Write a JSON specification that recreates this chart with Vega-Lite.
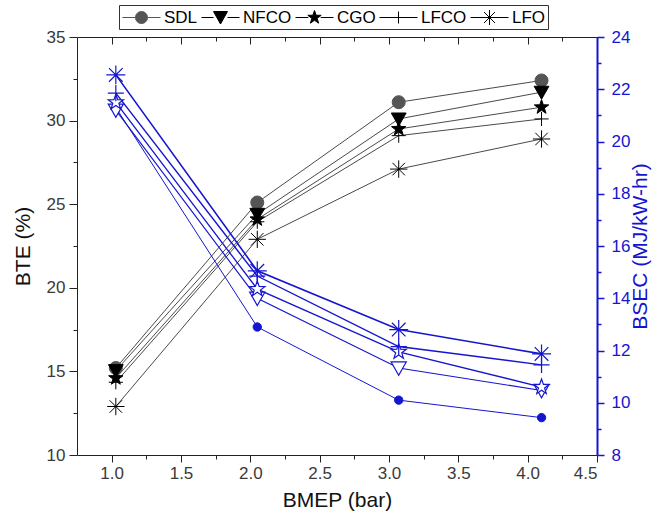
{
  "$schema": "https://vega.github.io/schema/vega-lite/v6.json",
  "width": 520,
  "height": 418,
  "autosize": {"type": "none"},
  "padding": {"left": 77, "top": 37, "right": 65, "bottom": 60},
  "background": "white",
  "config": {
    "view": {"stroke": null},
    "font": "Liberation Sans",
    "axis": {
      "grid": false,
      "labelFont": "Liberation Sans",
      "titleFont": "Liberation Sans",
      "labelFontSize": 17,
      "titleFontSize": 21,
      "titleFontWeight": "normal",
      "labelColor": "#3a3a3a",
      "titleColor": "#111111",
      "domainColor": "#222222",
      "tickColor": "#222222",
      "tickWidth": 1,
      "domainWidth": 1
    }
  },
  "data": {
    "values": [
      {"bmep": 1.03, "series": "SDL", "bte": 15.2, "bsec": 21.3},
      {"bmep": 2.05, "series": "SDL", "bte": 25.1, "bsec": 12.9},
      {"bmep": 3.07, "series": "SDL", "bte": 31.1, "bsec": 10.1},
      {"bmep": 4.1, "series": "SDL", "bte": 32.4, "bsec": 9.43},
      {"bmep": 1.03, "series": "NFCO", "bte": 15.05, "bsec": 21.2},
      {"bmep": 2.05, "series": "NFCO", "bte": 24.4, "bsec": 14.0},
      {"bmep": 3.07, "series": "NFCO", "bte": 30.1, "bsec": 11.33},
      {"bmep": 4.1, "series": "NFCO", "bte": 31.7, "bsec": 10.47},
      {"bmep": 1.03, "series": "CGO", "bte": 14.6, "bsec": 21.5},
      {"bmep": 2.05, "series": "CGO", "bte": 24.1, "bsec": 14.35},
      {"bmep": 3.07, "series": "CGO", "bte": 29.5, "bsec": 11.95},
      {"bmep": 4.1, "series": "CGO", "bte": 30.8, "bsec": 10.6},
      {"bmep": 1.03, "series": "LFCO", "bte": 14.35, "bsec": 21.85},
      {"bmep": 2.05, "series": "LFCO", "bte": 23.95, "bsec": 14.85},
      {"bmep": 3.07, "series": "LFCO", "bte": 29.1, "bsec": 12.15},
      {"bmep": 4.1, "series": "LFCO", "bte": 30.1, "bsec": 11.45},
      {"bmep": 1.03, "series": "LFO", "bte": 12.9, "bsec": 22.55},
      {"bmep": 2.05, "series": "LFO", "bte": 22.9, "bsec": 15.05},
      {"bmep": 3.07, "series": "LFO", "bte": 27.1, "bsec": 12.8},
      {"bmep": 4.1, "series": "LFO", "bte": 28.9, "bsec": 11.87}
    ]
  },
  "layer": [
    {
      "mark": {"type": "line", "color": "#4a4a4a", "strokeWidth": 1},
      "encoding": {
        "x": {"field": "bmep", "type": "quantitative",
          "scale": {"domain": [0.75, 4.5], "nice": false, "zero": false},
          "axis": {"orient": "bottom", "values": [1, 1.5, 2, 2.5, 3, 3.5, 4, 4.5], "format": ".1f", "tickSize": 7, "labelPadding": 3, "title": "BMEP (bar)", "titlePadding": 8}},
        "y": {"field": "bte", "type": "quantitative",
          "scale": {"domain": [10, 35], "nice": false, "zero": false},
          "axis": {"orient": "left", "values": [10, 15, 20, 25, 30, 35], "tickSize": 8, "labelPadding": 4, "title": "BTE (%)", "titlePadding": 13}},
        "detail": {"field": "series", "type": "nominal"}
      }
    },
    {
      "transform": [{"filter": "datum.series === 'SDL'"}],
      "mark": {"type": "point", "shape": "circle", "size": 170, "fill": "#555555", "stroke": "#555555", "strokeWidth": 1, "opacity": 1},
      "encoding": {
        "x": {"field": "bmep", "type": "quantitative",
          "axis": {"orient": "bottom", "values": [1.25, 1.75, 2.25, 2.75, 3.25, 3.75, 4.25], "labels": false, "domain": false, "tickSize": 4, "title": null}},
        "y": {"field": "bte", "type": "quantitative",
          "scale": {"domain": [10, 35], "nice": false, "zero": false},
          "axis": {"orient": "left", "values": [12.5, 17.5, 22.5, 27.5, 32.5], "labels": false, "domain": false, "tickSize": 4, "title": null}}
      }
    },
    {
      "transform": [{"filter": "datum.series === 'NFCO'"}],
      "mark": {"type": "point", "shape": "M-1,-0.8L1,-0.8L0,0.95Z", "size": 220, "fill": "#000000", "stroke": "#000000", "strokeWidth": 1, "opacity": 1},
      "encoding": {
        "x": {"field": "bmep", "type": "quantitative", "axis": null},
        "y": {"field": "bte", "type": "quantitative", "scale": {"domain": [10, 35], "nice": false, "zero": false}, "axis": null}
      }
    },
    {
      "transform": [{"filter": "datum.series === 'CGO'"}],
      "mark": {"type": "point", "shape": "M0,-1L0.235,-0.324L0.951,-0.309L0.38,0.124L0.588,0.809L0,0.4L-0.588,0.809L-0.38,0.124L-0.951,-0.309L-0.235,-0.324Z", "size": 230, "fill": "#000000", "stroke": "#000000", "strokeWidth": 1, "opacity": 1},
      "encoding": {
        "x": {"field": "bmep", "type": "quantitative", "axis": null},
        "y": {"field": "bte", "type": "quantitative", "scale": {"domain": [10, 35], "nice": false, "zero": false}, "axis": null}
      }
    },
    {
      "transform": [{"filter": "datum.series === 'LFCO'"}],
      "mark": {"type": "point", "shape": "M-1,0H1M0,-1V1", "size": 200, "fill": "#000000", "stroke": "#000000", "strokeWidth": 1, "opacity": 1},
      "encoding": {
        "x": {"field": "bmep", "type": "quantitative", "axis": null},
        "y": {"field": "bte", "type": "quantitative", "scale": {"domain": [10, 35], "nice": false, "zero": false}, "axis": null}
      }
    },
    {
      "transform": [{"filter": "datum.series === 'LFO'"}],
      "mark": {"type": "point", "shape": "M-1,0H1M0,-1V1M-0.72,-0.72L0.72,0.72M-0.72,0.72L0.72,-0.72", "size": 300, "fill": "#000000", "stroke": "#000000", "strokeWidth": 1, "opacity": 1},
      "encoding": {
        "x": {"field": "bmep", "type": "quantitative", "axis": null},
        "y": {"field": "bte", "type": "quantitative", "scale": {"domain": [10, 35], "nice": false, "zero": false}, "axis": null}
      }
    },
    {
      "mark": {"type": "line", "color": "#1515cf"},
      "encoding": {
        "x": {"field": "bmep", "type": "quantitative",
          "axis": {"orient": "top", "values": [1, 1.5, 2, 2.5, 3, 3.5, 4, 4.5], "labels": false, "tickSize": -7, "title": null}},
        "y": {"field": "bsec", "type": "quantitative",
          "scale": {"domain": [8, 24], "nice": false, "zero": false},
          "axis": {"orient": "right", "values": [8, 10, 12, 14, 16, 18, 20, 22, 24], "tickSize": 7, "labelPadding": 7,
            "title": "BSEC (MJ/kW-hr)", "titleAngle": 270, "titleBaseline": "top", "titlePadding": 0,
            "labelColor": "#1515cf", "titleColor": "#1515cf", "domainColor": "#1515cf", "tickColor": "#1515cf", "domainWidth": 2, "tickWidth": 1.5}},
        "detail": {"field": "series", "type": "nominal"},
        "strokeWidth": {"field": "series", "type": "nominal",
          "scale": {"domain": ["SDL", "NFCO", "CGO", "LFCO", "LFO"], "range": [1, 1.6, 1.6, 1.6, 1.6]},
          "legend": null}
      }
    },
    {
      "transform": [{"filter": "datum.series === 'SDL'"}],
      "mark": {"type": "point", "shape": "circle", "size": 70, "fill": "#1515cf", "stroke": "#1515cf", "strokeWidth": 1, "opacity": 1},
      "encoding": {
        "x": {"field": "bmep", "type": "quantitative",
          "axis": {"orient": "top", "values": [1.25, 1.75, 2.25, 2.75, 3.25, 3.75, 4.25], "labels": false, "domain": false, "tickSize": -4, "title": null}},
        "y": {"field": "bsec", "type": "quantitative",
          "scale": {"domain": [8, 24], "nice": false, "zero": false},
          "axis": {"orient": "right", "values": [9, 11, 13, 15, 17, 19, 21, 23], "labels": false, "domain": false, "tickSize": 4, "title": null, "tickColor": "#1515cf", "tickWidth": 1.5}}
      }
    },
    {
      "transform": [{"filter": "datum.series === 'NFCO'"}],
      "mark": {"type": "point", "shape": "M-1,-0.8L1,-0.8L0,0.95Z", "size": 230, "fill": "#ffffff", "stroke": "#1515cf", "strokeWidth": 1.2, "opacity": 1},
      "encoding": {
        "x": {"field": "bmep", "type": "quantitative", "axis": null},
        "y": {"field": "bsec", "type": "quantitative", "scale": {"domain": [8, 24], "nice": false, "zero": false}, "axis": null}
      }
    },
    {
      "transform": [{"filter": "datum.series === 'CGO'"}],
      "mark": {"type": "point", "shape": "M0,-1L0.235,-0.324L0.951,-0.309L0.38,0.124L0.588,0.809L0,0.4L-0.588,0.809L-0.38,0.124L-0.951,-0.309L-0.235,-0.324Z", "size": 260, "fill": "#ffffff", "stroke": "#1515cf", "strokeWidth": 1.2, "opacity": 1},
      "encoding": {
        "x": {"field": "bmep", "type": "quantitative", "axis": null},
        "y": {"field": "bsec", "type": "quantitative", "scale": {"domain": [8, 24], "nice": false, "zero": false}, "axis": null}
      }
    },
    {
      "transform": [{"filter": "datum.series === 'LFCO'"}],
      "mark": {"type": "point", "shape": "M-1,0H1M0,-1V1", "size": 260, "fill": "#1515cf", "stroke": "#1515cf", "strokeWidth": 1.2, "opacity": 1},
      "encoding": {
        "x": {"field": "bmep", "type": "quantitative", "axis": null},
        "y": {"field": "bsec", "type": "quantitative", "scale": {"domain": [8, 24], "nice": false, "zero": false}, "axis": null}
      }
    },
    {
      "transform": [{"filter": "datum.series === 'LFO'"}],
      "mark": {"type": "point", "shape": "M-1,0H1M0,-1V1M-0.72,-0.72L0.72,0.72M-0.72,0.72L0.72,-0.72", "size": 360, "fill": "#1515cf", "stroke": "#1515cf", "strokeWidth": 1.2, "opacity": 1},
      "encoding": {
        "x": {"field": "bmep", "type": "quantitative", "axis": null},
        "y": {"field": "bsec", "type": "quantitative", "scale": {"domain": [8, 24], "nice": false, "zero": false}, "axis": null}
      }
    },
    {
      "transform": [{"filter": "datum.bmep > 100"}],
      "mark": {"type": "point", "filled": false, "size": 400, "strokeWidth": 1, "opacity": 1},
      "encoding": {
        "shape": {"field": "series", "type": "nominal",
          "scale": {"domain": ["SDL", "NFCO", "CGO", "LFCO", "LFO"],
            "range": [
              "M-1.9,0H-0.6M0.6,0H1.9M0.6,0A0.6,0.6,0,1,1,-0.6,0A0.6,0.6,0,1,1,0.6,0Z",
              "M-1.9,0H-0.7M0.7,0H1.9M-0.7,-0.6L0.7,-0.6L0,0.65Z",
              "M-1.9,0H-0.62M0.62,0H1.9M0,-0.7L0.165,-0.227L0.666,-0.216L0.266,0.087L0.412,0.566L0,0.28L-0.412,0.566L-0.266,0.087L-0.666,-0.216L-0.165,-0.227Z",
              "M-1.9,0H1.9M0,-0.6V0.6",
              "M-1.9,0H1.9M0,-0.75V0.75M-0.55,-0.55L0.55,0.55M-0.55,0.55L0.55,-0.55"
            ]},
          "legend": {
            "orient": "none", "legendX": 42, "legendY": -32, "direction": "horizontal", "columns": 5, "gridAlign": "none",
            "title": null, "strokeColor": "#333333", "fillColor": "white", "padding": 2,
            "labelFontSize": 17, "labelFont": "Liberation Sans", "labelColor": "#000000",
            "symbolSize": 400, "symbolStrokeWidth": 1, "symbolOffset": 10, "labelOffset": 12, "columnPadding": 1, "rowPadding": 0
          }},
        "fill": {"field": "series", "type": "nominal",
          "scale": {"domain": ["SDL", "NFCO", "CGO", "LFCO", "LFO"], "range": ["#555555", "#000000", "#000000", "#000000", "#000000"]}},
        "stroke": {"field": "series", "type": "nominal",
          "scale": {"domain": ["SDL", "NFCO", "CGO", "LFCO", "LFO"], "range": ["#555555", "#000000", "#000000", "#000000", "#000000"]}}
      }
    }
  ],
  "resolve": {
    "scale": {"y": "independent", "strokeWidth": "independent"},
    "axis": {"x": "independent", "y": "independent"}
  }
}
